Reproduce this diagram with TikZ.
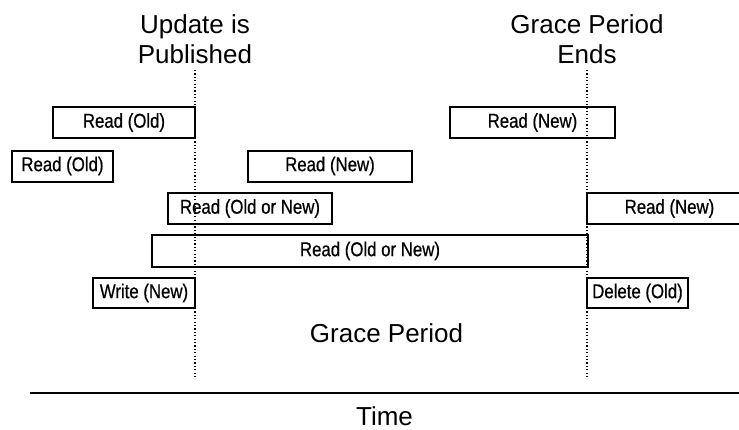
\documentclass[tikz,border=0pt]{standalone}
\usepackage{fontspec}
\setmainfont{Liberation Sans}
\newfontfamily\narrowfont[FakeStretch=0.84,FakeBold=0.6]{Liberation Sans}
\begin{document}
\begin{tikzpicture}[x=1pt,y=-1pt,
  box/.style={draw, line width=2pt, inner sep=0pt, minimum height=31pt,
    font=\narrowfont\fontsize{20}{22}\selectfont},
  title/.style={inner sep=0pt, anchor=base, font=\fontsize{26}{30}\selectfont},
  marker/.style={line width=1.5pt, dash pattern=on 1.2pt off 2.2pt},
  axis/.style={line width=2pt}]
\useasboundingbox (0,0) rectangle (739,429);
% titles
\node[title] (upd) at (195,33) {Update is};
\node[title] (pub) at (195,63) {Published};
\node[title] (gpe) at (587,33) {Grace Period};
\node[title] (end) at (587,63) {Ends};
% dotted markers
\coordinate (m1top) at (195,70);
\coordinate (m1bot) at (195,378);
\coordinate (m2top) at (587,70);
\coordinate (m2bot) at (587,378);
\draw[marker] (m1top) -- (m1bot);
\draw[marker] (m2top) -- (m2bot);
% boxes
\node[box, minimum width=142pt] (r1) at (124,122.5) {Read (Old)};
\node[box, minimum width=101pt] (r2) at (62.5,166) {Read (Old)};
\node[box, minimum width=164pt] (r3) at (330,166) {Read (New)};
\node[box, minimum width=165pt] (r4) at (532.5,122.5) {Read (New)};
\node[box, minimum width=164pt] (r5) at (250,208.5) {Read (Old or New)};
\node[box, minimum width=165pt] (r6) at (669.5,208.5) {Read (New)};
\node[box, minimum width=436pt, minimum height=32pt] (r7) at (370,251) {Read (Old or New)};
\node[box, minimum width=102pt, minimum height=30pt] (w1) at (144,293) {Write (New)};
\node[box, minimum width=101pt, minimum height=30pt] (d1) at (637.5,293) {Delete (Old)};
% grace period
\node[title] (gp) at (386.5,342) {Grace Period};
% time axis
\coordinate (ta) at (30,393);
\coordinate (tb) at (745,393);
\draw[axis] (ta) -- (tb);
\node[title] (time) at (384.5,425) {Time};
\end{tikzpicture}
\end{document}
